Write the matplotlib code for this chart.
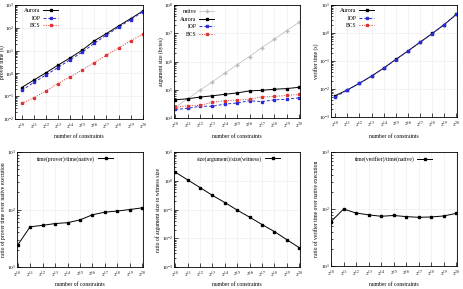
import matplotlib
matplotlib.use("Agg")
import matplotlib.pyplot as plt
from matplotlib.ticker import LogLocator, NullFormatter, FixedLocator

plt.rcParams['font.family'] = ['Liberation Serif', 'DejaVu Serif']
plt.rcParams['mathtext.fontset'] = 'stix'
plt.rcParams['font.size'] = 4.1

exponents = [10, 11, 12, 13, 14, 15, 16, 17, 18, 19, 20]
tick_labels = [r'$2^{%d}$' % e for e in exponents]

# prover time (s)
prover_aurora = [0.24, 0.51, 1.06, 2.3, 4.8, 10.4, 27, 56, 120, 252, 545]
prover_iop = [0.18, 0.40, 0.85, 1.8, 4.0, 8.5, 21, 48, 105, 230, 500]
prover_bcs = [0.048, 0.085, 0.17, 0.36, 0.71, 1.4, 3.0, 6.3, 13, 27, 52]

# argument size (bytes)
size_native = [24000, 48000, 96000, 192000, 384000, 768000, 1.5e6, 3.1e6, 6.1e6, 1.23e7, 2.45e7]
size_aurora = [44000, 48000, 55000, 61000, 69000, 77000, 91000, 96000, 104000, 110000, 122000]
size_iop = [20000, 22000, 26000, 26000, 31000, 34000, 41000, 38000, 44000, 46000, 52000]
size_bcs = [24000, 27000, 28000, 36000, 41000, 43000, 46000, 56000, 58000, 63000, 68000]

# verifier time (s)
verif_aurora = [0.0058, 0.0093, 0.016, 0.029, 0.056, 0.114, 0.228, 0.47, 0.96, 2.0, 4.7]
verif_iop = [0.0052, 0.0091, 0.016, 0.029, 0.055, 0.112, 0.226, 0.46, 0.95, 2.0, 4.6]

# ratios
ratio_prover = [24, 50, 53, 57, 59, 66, 81, 90, 94, 100, 107]
ratio_size = [2.0, 1.07, 0.58, 0.31, 0.175, 0.095, 0.054, 0.030, 0.017, 0.0089, 0.0047]
ratio_verif = [60, 100, 85, 79, 74.5, 77, 73.5, 71.5, 72.5, 75.5, 84]

W, H = 463, 289
fig = plt.figure(figsize=(W / 100, H / 100), dpi=100)


def ax_px(x0, x1, y0, y1):
    return fig.add_axes([x0 / W, 1 - y1 / H, (x1 - x0) / W, (y1 - y0) / H])


BLACK = '#000000'
BLUE = '#2a2ad8'
RED = '#e03434'
GRAY = '#b8b8b8'
FS = 4.1
TFS = 3.8


def style(ax, ylo, yhi, ylabel, xlim, ylab_x, xlab_y):
    ax.set_yscale('log')
    ax.set_ylim(ylo, yhi)
    ax.set_xlim(*xlim)
    ax.xaxis.set_major_locator(FixedLocator(exponents))
    ax.set_xticklabels(tick_labels)
    ax.yaxis.set_major_locator(LogLocator(base=10, numticks=20))
    ax.yaxis.set_minor_locator(LogLocator(base=10, subs=range(2, 10), numticks=20))
    ax.yaxis.set_minor_formatter(NullFormatter())
    ax.tick_params(which='both', direction='in', top=False, right=False,
                   labelsize=TFS, width=0.5)
    ax.tick_params(axis='x', pad=2.5)
    ax.tick_params(axis='y', pad=1.0)
    ax.tick_params(which='major', length=3)
    ax.tick_params(which='minor', length=1.5)
    ax.grid(True, which='major', color='#eeeeee', lw=0.5)
    for s in ax.spines.values():
        s.set_linewidth(0.6)
    ax.set_xlabel('number of constraints', fontsize=FS, va='center')
    ax.set_ylabel(ylabel, fontsize=FS, va='center')
    pos = ax.get_position()
    ax.xaxis.set_label_coords((pos.x0 + pos.x1) / 2, 1 - xlab_y / H, transform=fig.transFigure)
    ax.yaxis.set_label_coords(ylab_x / W, (pos.y0 + pos.y1) / 2, transform=fig.transFigure)


def leg(ax, xr, ytop):
    return ax.legend(loc='upper right', bbox_to_anchor=(xr / W, 1 - ytop / H),
                     bbox_transform=fig.transFigure, frameon=False, markerfirst=False,
                     fontsize=FS, handlelength=2.6, labelspacing=0.45,
                     borderaxespad=0, handletextpad=0.5, borderpad=0)


mk = dict(marker='s', markersize=1.5)

# top-left
ax = ax_px(15, 143, 5, 119)
ax.plot(exponents, prover_aurora, color=BLACK, lw=0.7, label='Aurora', **mk)
ax.plot(exponents, prover_iop, color=BLUE, lw=0.7, ls=(0, (3, 2)), label='IOP', **mk)
ax.plot(exponents, prover_bcs, color=RED, lw=0.7, ls=(0, (1, 1.5)), label='BCS', **mk)
style(ax, 1e-2, 1e3, 'prover time (s)', (9.45, 20.02), 2.4, 136)
leg(ax, 58, 8)

# top-middle
ax = ax_px(174, 300, 5, 118)
ax.plot(exponents, size_native, color=GRAY, lw=0.5, marker='+', markersize=2.5, label='native')
ax.plot(exponents, size_aurora, color=BLACK, lw=0.7, label='Aurora', **mk)
ax.plot(exponents, size_iop, color=BLUE, lw=0.7, ls=(0, (3, 2)), label='IOP', **mk)
ax.plot(exponents, size_bcs, color=RED, lw=0.7, ls=(0, (1, 1.5)), label='BCS', **mk)
style(ax, 1e4, 1e8, 'argument size (bytes)', (9.9, 20.08), 161, 136)
leg(ax, 214, 9)

# top-right
ax = ax_px(331, 457, 5, 117)
ax.plot(exponents, verif_aurora, color=BLACK, lw=0.7, label='Aurora', **mk)
ax.plot(exponents, verif_iop, color=BLUE, lw=0.7, ls=(0, (3, 2)), label='IOP', **mk)
ax.plot([], [], color=RED, lw=0.7, ls=(0, (1, 1.5)), label='BCS', **mk)
style(ax, 1e-3, 1e1, 'verifier time (s)', (9.65, 20.05), 316, 136)
leg(ax, 374, 8)

# bottom-left
ax = ax_px(17, 143, 152, 267)
ax.plot(exponents, ratio_prover, color=BLACK, lw=0.7, label='time(prover)/time(native)', **mk)
style(ax, 1e1, 1e3, 'ratio of prover time over native execution', (9.95, 20.05), 3.2, 285)
leg(ax, 113, 156)

# bottom-middle
ax = ax_px(174, 300, 152, 267)
ax.plot(exponents, ratio_size, color=BLACK, lw=0.7, label='size(argument)/size(witness)', **mk)
style(ax, 1e-3, 1e1, 'ratio of argument size to witness size', (9.9, 20.06), 158, 285)
leg(ax, 280, 156)

# bottom-right
ax = ax_px(331, 457, 152, 266)
ax.plot(exponents, ratio_verif, color=BLACK, lw=0.7, label='time(verifier)/time(native)', **mk)
style(ax, 1e1, 1e3, 'ratio of verifier time over native execution', (10, 20.05), 317, 285)
leg(ax, 432, 156)

fig.savefig('out.png', dpi=100)
